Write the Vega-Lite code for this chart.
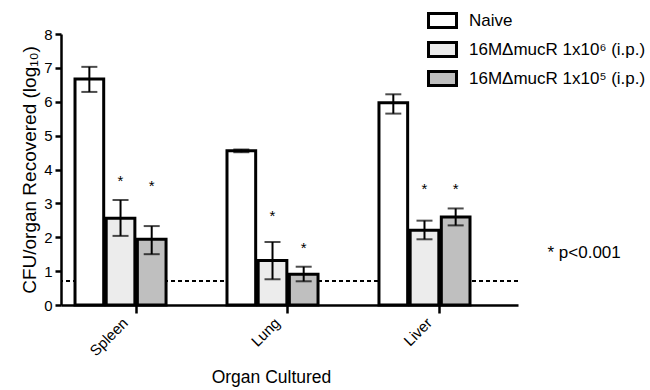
{
  "$schema": "https://vega.github.io/schema/vega-lite/v6.json",
  "width": 457,
  "height": 271,
  "autosize": {"type": "none"},
  "padding": {"left": 61, "top": 34, "right": 132, "bottom": 85},
  "config": {
    "font": "Liberation Sans",
    "view": {"stroke": null},
    "axis": {
      "domainColor": "black", "domainWidth": 2.5, "tickColor": "black", "tickWidth": 2.5,
      "labelColor": "black", "titleColor": "black", "grid": false,
      "labelFont": "Liberation Sans", "titleFont": "Liberation Sans", "titleFontWeight": "normal"
    },
    "legend": {"labelFont": "Liberation Sans", "labelColor": "black"}
  },
  "data": {
    "values": [
      {"organ": "Spleen", "group": "Naive", "value": 6.67, "lo": 6.29, "hi": 7.03, "star": null},
      {"organ": "Spleen", "group": "16MΔmucR 1x10⁶ (i.p.)", "value": 2.56, "lo": 2.04, "hi": 3.10, "star": 3.66},
      {"organ": "Spleen", "group": "16MΔmucR 1x10⁵ (i.p.)", "value": 1.94, "lo": 1.50, "hi": 2.33, "star": 3.51},
      {"organ": "Lung", "group": "Naive", "value": 4.55, "lo": 4.51, "hi": 4.59, "star": null},
      {"organ": "Lung", "group": "16MΔmucR 1x10⁶ (i.p.)", "value": 1.31, "lo": 0.76, "hi": 1.86, "star": 2.63},
      {"organ": "Lung", "group": "16MΔmucR 1x10⁵ (i.p.)", "value": 0.91, "lo": 0.70, "hi": 1.13, "star": 1.68},
      {"organ": "Liver", "group": "Naive", "value": 5.97, "lo": 5.65, "hi": 6.22, "star": null},
      {"organ": "Liver", "group": "16MΔmucR 1x10⁶ (i.p.)", "value": 2.21, "lo": 1.94, "hi": 2.49, "star": 3.42},
      {"organ": "Liver", "group": "16MΔmucR 1x10⁵ (i.p.)", "value": 2.60, "lo": 2.35, "hi": 2.85, "star": 3.42}
    ]
  },
  "encoding": {
    "x": {
      "field": "organ", "type": "nominal", "sort": ["Spleen", "Lung", "Liver"],
      "scale": {"paddingInner": 0.401, "paddingOuter": 0.204, "align": 0.226},
      "axis": {"title": "Organ Cultured", "titleFontSize": 17.5, "labelFontSize": 15, "labelAngle": -45, "tickSize": 8, "labelPadding": 2, "labelDx": 5, "titlePadding": 10, "bandPosition": 0.67, "titleX": 210}
    },
    "xOffset": {
      "field": "group", "type": "nominal",
      "sort": ["Naive", "16MΔmucR 1x10⁶ (i.p.)", "16MΔmucR 1x10⁵ (i.p.)"],
      "scale": {"paddingInner": 0.08, "paddingOuter": 0}
    }
  },
  "layer": [
    {
      "mark": {"type": "rule", "strokeDash": [4, 3], "strokeWidth": 1.5, "color": "black"},
      "encoding": {"x": null, "xOffset": null, "y": {"datum": 0.7, "type": "quantitative"}}
    },
    {
      "mark": {"type": "bar", "stroke": "black", "strokeWidth": 3},
      "encoding": {
        "y": {
          "field": "value", "type": "quantitative",
          "scale": {"domain": [0, 8]},
          "axis": {"title": "CFU/organ Recovered (log₁₀)", "titleFontSize": 19, "labelFontSize": 15, "tickCount": 8, "tickSize": 6, "labelPadding": 3, "titlePadding": 4}
        },
        "fill": {
          "field": "group", "type": "nominal",
          "scale": {"domain": ["Naive", "16MΔmucR 1x10⁶ (i.p.)", "16MΔmucR 1x10⁵ (i.p.)"], "range": ["#ffffff", "#ececec", "#bfbfbf"]},
          "legend": {
            "title": null, "orient": "none", "legendX": 366, "legendY": -29,
            "symbolType": "M-1,-0.5L1,-0.5L1,0.5L-1,0.5Z", "symbolSize": 784,
            "symbolStrokeColor": "black", "symbolStrokeWidth": 3,
            "labelFontSize": 17, "labelOffset": 11, "rowPadding": 0, "labelLimit": 300
          }
        }
      }
    },
    {
      "mark": {"type": "rule", "color": "black", "strokeWidth": 2},
      "encoding": {"y": {"field": "lo", "type": "quantitative"}, "y2": {"field": "hi"}}
    },
    {
      "mark": {"type": "tick", "color": "black", "thickness": 2, "size": 16},
      "encoding": {"y": {"field": "hi", "type": "quantitative"}}
    },
    {
      "mark": {"type": "tick", "color": "black", "thickness": 2, "size": 16},
      "encoding": {"y": {"field": "lo", "type": "quantitative"}}
    },
    {
      "transform": [{"filter": "isValid(datum.star)"}],
      "mark": {"type": "text", "text": "*", "fontSize": 15, "baseline": "middle", "color": "black"},
      "encoding": {"y": {"field": "star", "type": "quantitative"}}
    },
    {
      "data": {"values": [{"label": "* p<0.001", "organ": "Liver", "pos": 1.53}]},
      "mark": {"type": "text", "align": "left", "baseline": "middle", "dx": 123, "fontSize": 17, "color": "black"},
      "encoding": {"xOffset": null, "y": {"field": "pos", "type": "quantitative"}, "text": {"field": "label"}}
    }
  ]
}
